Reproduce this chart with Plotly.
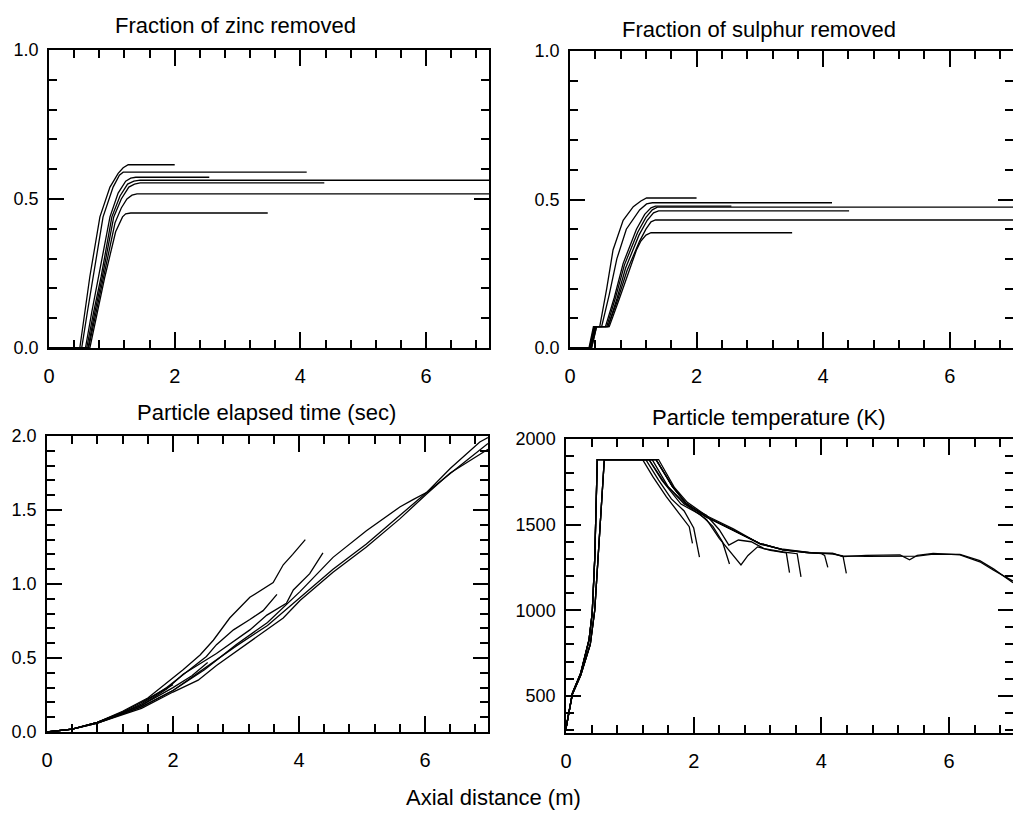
import plotly.graph_objects as go

# ---------------- data ----------------
# Fraction of zinc removed
zinc_x = [
    [0, 0.49, 0.57, 0.65, 0.81, 0.97, 1.10, 1.18, 1.26, 2.0],
    [0, 0.52, 0.61, 0.70, 0.86, 1.02, 1.12, 1.18, 1.30, 4.1],
    [0, 0.58, 0.68, 0.79, 0.97, 1.10, 1.22, 1.30, 1.38, 2.55],
    [0, 0.60, 0.71, 0.83, 1.00, 1.13, 1.25, 1.35, 1.45, 7.0],
    [0, 0.62, 0.73, 0.85, 1.03, 1.15, 1.27, 1.36, 1.45, 4.38],
    [0, 0.63, 0.75, 0.87, 1.05, 1.15, 1.24, 1.32, 1.40, 7.0],
    [0, 0.65, 0.77, 0.89, 1.06, 1.12, 1.17, 1.22, 1.30, 3.48],
]
zinc_y = [
    [0, 0, 0.12, 0.24, 0.44, 0.54, 0.586, 0.605, 0.615, 0.615],
    [0, 0, 0.12, 0.24, 0.44, 0.54, 0.580, 0.590, 0.590, 0.590],
    [0, 0, 0.12, 0.24, 0.44, 0.52, 0.560, 0.570, 0.573, 0.573],
    [0, 0, 0.12, 0.24, 0.44, 0.51, 0.550, 0.560, 0.563, 0.563],
    [0, 0, 0.12, 0.24, 0.44, 0.50, 0.540, 0.550, 0.554, 0.554],
    [0, 0, 0.12, 0.24, 0.42, 0.47, 0.500, 0.513, 0.517, 0.517],
    [0, 0, 0.12, 0.24, 0.39, 0.42, 0.440, 0.450, 0.453, 0.453],
]

# Fraction of sulphur removed
sulphur_x = [
    [0, 0.30, 0.37, 0.47, 0.58, 0.68, 0.84, 1.00, 1.12, 1.21, 2.0],
    [0, 0.31, 0.38, 0.50, 0.62, 0.74, 0.89, 1.10, 1.21, 1.30, 4.14],
    [0, 0.32, 0.39, 0.56, 0.70, 0.84, 1.05, 1.18, 1.28, 1.35, 2.55],
    [0, 0.32, 0.40, 0.58, 0.72, 0.86, 1.07, 1.20, 1.30, 1.38, 7.0],
    [0, 0.33, 0.41, 0.60, 0.74, 0.88, 1.09, 1.22, 1.32, 1.40, 4.41],
    [0, 0.34, 0.42, 0.60, 0.75, 0.90, 1.10, 1.20, 1.28, 1.35, 7.0],
    [0, 0.34, 0.42, 0.62, 0.77, 0.92, 1.05, 1.12, 1.20, 1.28, 3.51],
]
sulphur_y = [
    [0, 0, 0.072, 0.072, 0.20, 0.33, 0.43, 0.476, 0.495, 0.505, 0.505],
    [0, 0, 0.072, 0.072, 0.18, 0.30, 0.40, 0.465, 0.485, 0.489, 0.489],
    [0, 0, 0.072, 0.072, 0.17, 0.285, 0.40, 0.450, 0.472, 0.478, 0.478],
    [0, 0, 0.072, 0.072, 0.17, 0.28, 0.39, 0.440, 0.465, 0.474, 0.474],
    [0, 0, 0.072, 0.072, 0.165, 0.27, 0.38, 0.430, 0.455, 0.462, 0.462],
    [0, 0, 0.072, 0.072, 0.16, 0.26, 0.36, 0.400, 0.425, 0.431, 0.431],
    [0, 0, 0.072, 0.072, 0.16, 0.25, 0.33, 0.360, 0.380, 0.388, 0.388],
]

# Particle elapsed time (sec)
time_x = [
    [0, 0.4, 0.8, 1.2, 1.6, 1.9, 2.16, 2.43, 2.64, 2.9, 3.22, 3.59, 3.75, 3.9, 4.1],
    [0, 0.4, 0.8, 1.2, 1.5, 1.9, 2.2, 2.53, 2.69, 2.96, 3.22, 3.43, 3.65],
    [0, 0.4, 0.8, 1.2, 1.5, 1.9, 2.16, 2.69, 3.22, 3.49, 3.8, 3.91, 4.17, 4.38],
    [0, 0.4, 0.8, 1.2, 1.5, 2.0, 2.5, 3.0, 3.5, 4.02, 4.54, 5.07, 5.6, 5.81, 6.03, 6.4, 6.87, 7.0],
    [0, 0.4, 0.8, 1.2, 1.5, 2.0, 2.4, 2.69, 3.22, 3.75, 4.02, 4.54, 5.07, 5.6, 6.03, 6.4, 7.0],
    [0, 0.4, 0.8, 1.2, 1.5, 2.0, 2.5, 3.0, 3.5, 4.02, 4.54, 5.07, 5.6, 6.03, 6.5, 7.0],
    [0, 0.4, 0.8, 1.2, 1.5, 2.0, 2.3, 2.55],
    [0, 0.4, 0.8, 1.2, 1.5, 1.8, 2.0],
]
time_y = [
    [0, 0.02, 0.065, 0.14, 0.23, 0.33, 0.42, 0.52, 0.62, 0.77, 0.91, 1.01, 1.13, 1.20, 1.30],
    [0, 0.02, 0.065, 0.13, 0.19, 0.30, 0.40, 0.51, 0.59, 0.69, 0.76, 0.82, 0.93],
    [0, 0.02, 0.065, 0.13, 0.18, 0.29, 0.39, 0.53, 0.69, 0.79, 0.87, 0.96, 1.07, 1.21],
    [0, 0.02, 0.06, 0.12, 0.17, 0.28, 0.42, 0.59, 0.74, 0.95, 1.18, 1.36, 1.52, 1.57, 1.62, 1.78, 1.96, 1.99],
    [0, 0.02, 0.06, 0.12, 0.16, 0.27, 0.35, 0.45, 0.61, 0.77, 0.89, 1.08, 1.25, 1.44, 1.61, 1.75, 1.91],
    [0, 0.02, 0.06, 0.12, 0.17, 0.28, 0.43, 0.58, 0.72, 0.91, 1.10, 1.27, 1.46, 1.62, 1.78, 1.95],
    [0, 0.02, 0.065, 0.13, 0.18, 0.30, 0.38, 0.47],
    [0, 0.02, 0.065, 0.135, 0.20, 0.27, 0.32],
]

# Particle temperature (K)
temp_x = [
    [0, 0.1, 0.23, 0.36, 0.41, 0.45, 0.49, 1.2, 1.36, 1.57, 1.77, 1.93, 1.98],
    [0, 0.1, 0.23, 0.38, 0.45, 0.52, 0.6, 1.25, 1.45, 1.65, 1.85, 2.0, 2.09],
    [0, 0.1, 0.23, 0.36, 0.41, 0.45, 0.49, 1.3, 1.5, 1.8, 2.1, 2.3, 2.45, 2.56],
    [0, 0.1, 0.23, 0.38, 0.45, 0.52, 0.6, 1.35, 1.6, 1.9, 2.2, 2.4, 2.6, 2.74, 2.85, 3.0, 3.2, 3.45, 3.5],
    [0, 0.1, 0.23, 0.36, 0.41, 0.45, 0.49, 1.3, 1.55, 1.85, 2.2, 2.4, 2.55, 2.7, 2.9, 3.1, 3.4, 3.62, 3.68],
    [0, 0.1, 0.23, 0.38, 0.45, 0.52, 0.6, 1.41, 1.67, 1.88, 2.19, 2.61, 3.03, 3.4, 3.8, 4.0, 4.05, 4.1],
    [0, 0.1, 0.23, 0.36, 0.41, 0.45, 0.49, 1.41, 1.67, 1.88, 2.19, 2.61, 3.03, 3.4, 3.8, 4.18, 4.34, 4.39],
    [0, 0.1, 0.23, 0.36, 0.41, 0.45, 0.49, 1.41, 1.67, 1.88, 2.19, 2.61, 3.03, 3.4, 3.8, 4.18, 4.34, 4.7,
     5.23, 5.38, 5.5, 5.75, 6.17, 6.48, 6.69, 7.0],
    [0, 0.1, 0.23, 0.38, 0.45, 0.52, 0.6, 1.45, 1.7, 1.9, 2.2, 2.62, 3.05, 3.4, 3.8, 4.18, 4.34, 4.7,
     5.23, 5.5, 5.75, 6.17, 6.48, 6.7, 7.0],
]
temp_y = [
    [310, 515, 632, 826, 982, 1300, 1880, 1880, 1780, 1663, 1566, 1488, 1390],
    [310, 510, 620, 800, 1000, 1400, 1880, 1880, 1760, 1650, 1580, 1480, 1310],
    [310, 515, 632, 826, 982, 1300, 1880, 1880, 1760, 1620, 1560, 1490, 1400, 1270],
    [310, 510, 620, 800, 1000, 1400, 1880, 1880, 1720, 1610, 1530, 1420, 1330, 1265, 1320, 1370, 1350, 1335, 1220],
    [310, 515, 632, 826, 982, 1300, 1880, 1880, 1740, 1620, 1555, 1470, 1380, 1410, 1400, 1360, 1340, 1330, 1195],
    [310, 510, 620, 800, 1000, 1400, 1880, 1880, 1721, 1624, 1546, 1469, 1391, 1352, 1335, 1330, 1320, 1250],
    [310, 515, 632, 826, 982, 1300, 1880, 1880, 1721, 1624, 1546, 1469, 1391, 1352, 1335, 1332, 1313, 1215],
    [310, 515, 632, 826, 982, 1300, 1880, 1880, 1721, 1624, 1546, 1469, 1391, 1352, 1335, 1332, 1313, 1320,
     1323, 1295, 1320, 1332, 1323, 1283, 1235, 1170],
    [310, 510, 620, 800, 1000, 1400, 1880, 1880, 1715, 1630, 1552, 1475, 1385, 1356, 1338, 1328, 1318, 1315,
     1318, 1316, 1328, 1326, 1290, 1240, 1160],
]

titles = ["Fraction of zinc removed", "Fraction of sulphur removed",
          "Particle elapsed time (sec)", "Particle temperature (K)"]
x_title = "Axial distance (m)"

# ---------------- figure ----------------
W, H = 1013, 815
FONT = "Liberation Sans, Arial, Helvetica, sans-serif"

fig = go.Figure()

panels = [
    (zinc_x, zinc_y, "x", "y"),
    (sulphur_x, sulphur_y, "x2", "y2"),
    (time_x, time_y, "x3", "y3"),
    (temp_x, temp_y, "x4", "y4"),
]
for xs, ys, xa, ya in panels:
    for cx, cy in zip(xs, ys):
        fig.add_trace(go.Scatter(x=cx, y=cy, mode="lines", xaxis=xa, yaxis=ya,
                                 line=dict(color="black", width=1.3),
                                 showlegend=False, hoverinfo="skip"))


def px_dom(a, b, total):
    return [a / total, b / total]


def py_dom(top, bottom):
    return [1 - bottom / H, 1 - top / H]


common_x = dict(range=[0, 7], tickvals=[0, 2, 4, 6], ticks="inside", ticklen=16,
                tickwidth=1.5, tickcolor="black", showline=True, linecolor="black",
                linewidth=1.5, mirror="allticks", showgrid=False, zeroline=False,
                automargin=False,
                tickfont=dict(family=FONT, size=20, color="black"),
                ticklabelstandoff=9,
                minor=dict(dtick=0.4, tick0=0, ticks="inside", ticklen=8,
                           tickwidth=1.5, tickcolor="black", showgrid=False))


def yax(rng, tickvals, ticktext, minor_dtick, tick0):
    return dict(range=rng, tickvals=tickvals, ticktext=ticktext, ticks="inside",
                ticklen=15, tickwidth=1.5, tickcolor="black", showline=True,
                linecolor="black", linewidth=1.5, mirror="allticks", showgrid=False,
                zeroline=False, automargin=False,
                tickfont=dict(family=FONT, size=18, color="black"),
                ticklabelstandoff=5,
                minor=dict(dtick=minor_dtick, tick0=tick0, ticks="inside", ticklen=8,
                           tickwidth=1.5, tickcolor="black", showgrid=False))


frac_ticks = [0, 0.5, 1.0]
frac_text = ["0.0", "0.5", "1.0"]
time_ticks = [0, 0.5, 1.0, 1.5, 2.0]
time_text = ["0.0", "0.5", "1.0", "1.5", "2.0"]
temp_ticks = [500, 1000, 1500, 2000]
temp_text = ["500", "1000", "1500", "2000"]

fig.update_layout(
    width=W, height=H,
    margin=dict(l=0, r=0, t=0, b=0, autoexpand=False),
    paper_bgcolor="white", plot_bgcolor="white",
    font=dict(family=FONT, color="black"),
    xaxis=dict(common_x, domain=px_dom(49, 489, W), anchor="y"),
    yaxis=dict(yax([0, 1], frac_ticks, frac_text, 0.1, 0), domain=py_dom(50, 348), anchor="x"),
    xaxis2=dict(common_x, domain=px_dom(570, 1013, W), anchor="y2"),
    yaxis2=dict(yax([0, 1], frac_ticks, frac_text, 0.1, 0), domain=py_dom(51, 348), anchor="x2"),
    xaxis3=dict(common_x, domain=px_dom(47, 488, W), anchor="y3"),
    yaxis3=dict(yax([0, 2], time_ticks, time_text, 0.1, 0), domain=py_dom(436, 732), anchor="x3"),
    xaxis4=dict(common_x, domain=px_dom(566, 1013, W), anchor="y4"),
    yaxis4=dict(yax([283, 2000], temp_ticks, temp_text, 100, 0), domain=py_dom(439, 733), anchor="x4"),
)

title_pos = [(235, 25), (759, 29), (266, 413), (769, 417)]
for t, (cx, cy) in zip(titles, title_pos):
    fig.add_annotation(text=t, x=cx / W, y=1 - cy / H, xref="paper", yref="paper",
                       xanchor="center", yanchor="middle", showarrow=False,
                       font=dict(family=FONT, size=22, color="black"))

fig.add_annotation(text=x_title, x=493 / W, y=1 - 797 / H, xref="paper", yref="paper",
                   xanchor="center", yanchor="middle", showarrow=False,
                   font=dict(family=FONT, size=22, color="black"))

fig.write_html(
    "out.html",
    config={"displayModeBar": False},
    post_script="document.body.style.margin='0';document.body.style.overflow='hidden';",
)
